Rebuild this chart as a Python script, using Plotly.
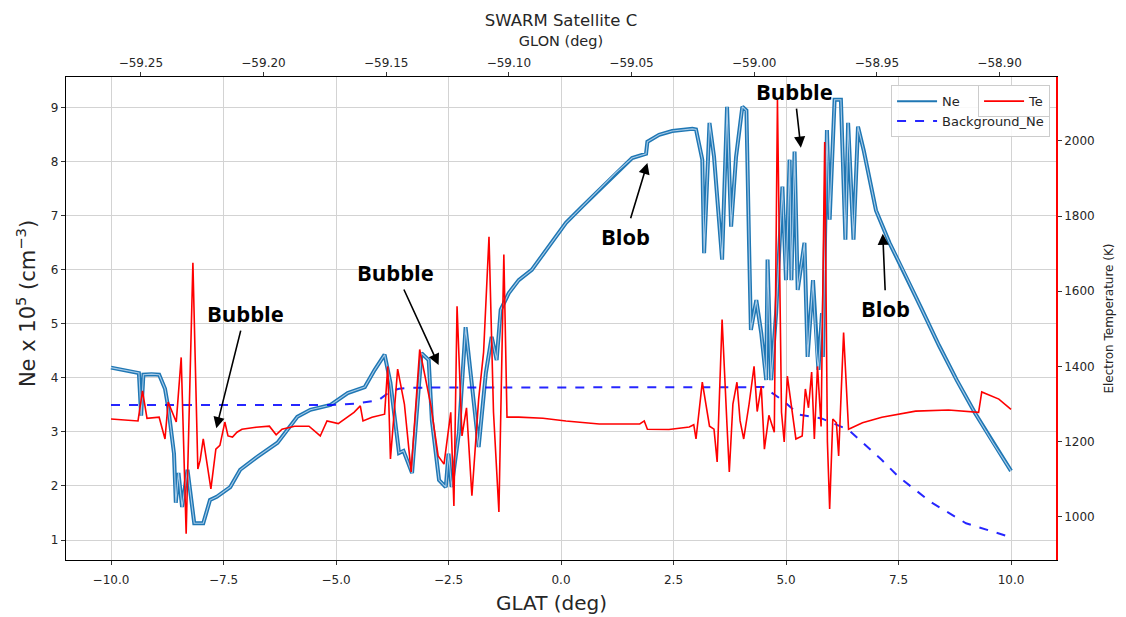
import plotly.graph_objects as go

# ---------------- data ----------------
ne_glat = [-10.0, -9.6, -9.38, -9.33, -9.28, -9.1, -8.93, -8.8, -8.73, -8.6, -8.56, -8.5, -8.42, -8.3,
           -8.15, -7.95, -7.8, -7.65, -7.35, -7.13, -6.75, -6.3, -5.86, -5.57, -5.12, -4.74, -4.36,
           -4.14, -3.92, -3.79, -3.6, -3.5, -3.31, -3.1, -2.94, -2.87, -2.71, -2.56, -2.5, -2.43,
           -2.27, -2.12, -1.98, -1.83, -1.67, -1.54, -1.43, -1.34, -1.16, -0.94, -0.65, -0.27, 0.11,
           0.47, 0.85, 1.22, 1.58, 1.89, 1.92, 2.18, 2.47, 2.92, 3.0, 3.14, 3.18, 3.3, 3.4, 3.58,
           3.69, 3.78, 3.89, 4.03, 4.12, 4.18, 4.22, 4.34, 4.45, 4.56, 4.59, 4.67, 4.78, 4.92, 5.0,
           5.08, 5.12, 5.19, 5.26, 5.41, 5.48, 5.6, 5.68, 5.72, 5.8, 5.82, 5.91, 5.97, 6.08, 6.22,
           6.32, 6.38, 6.5, 6.6, 6.73, 7.0, 7.3, 7.6, 8.0, 8.4, 8.8, 9.2, 9.6, 10.0]
ne_vals = [4.19, 4.13, 4.09, 3.3, 4.06, 4.07, 4.06, 3.8, 3.46, 2.6, 1.69, 2.24, 1.61, 2.3,
           1.31, 1.31, 1.74, 1.8, 1.98, 2.3, 2.54, 2.8, 3.28, 3.41, 3.5, 3.72, 3.83,
           4.15, 4.43, 3.91, 2.61, 2.65, 2.24, 4.46, 4.33, 3.22, 2.11, 1.98, 2.6, 1.98,
           2.98, 4.94, 3.83, 2.72, 4.09, 4.76, 4.33, 5.26, 5.57, 5.81, 6.0, 6.43, 6.87,
           7.17, 7.48, 7.8, 8.07, 8.15, 8.37, 8.5, 8.57, 8.61, 8.6, 8.04, 6.31, 8.72, 8.1, 6.19,
           9.02, 6.8, 8.09, 9.02, 8.95, 6.43, 4.89, 5.44, 4.83, 3.96, 6.19, 3.96, 5.2, 7.54, 5.81,
           8.04, 5.81, 8.19, 5.63, 6.5, 4.39, 5.81, 4.46, 4.15, 5.2, 4.39, 8.59, 6.93, 9.15, 9.15,
           6.56, 8.72, 6.56, 8.65, 8.2, 7.1, 6.5, 6.0, 5.3, 4.6, 3.95, 3.35, 2.8, 2.28]

te_glat = [-10.0, -9.7, -9.4, -9.3, -9.2, -8.93, -8.8, -8.73, -8.55, -8.44, -8.33, -8.18, -8.07,
           -8.02, -7.95, -7.78, -7.67, -7.58, -7.47, -7.4, -7.3, -7.2, -7.09, -6.78, -6.48, -6.33,
           -6.2, -5.92, -5.6, -5.35, -5.2, -4.95, -4.6, -4.46, -4.4, -4.2, -3.92, -3.85, -3.79,
           -3.63, -3.48, -3.33, -3.14, -2.89, -2.73, -2.6, -2.45, -2.38, -2.31, -2.2, -2.1, -1.98,
           -1.83, -1.72, -1.6, -1.5, -1.38, -1.27, -1.2, -0.94, -0.4, 0.11, 0.85, 1.75, 1.85, 1.92,
           2.4, 2.85, 2.95, 3.0, 3.14, 3.3, 3.4, 3.47, 3.58, 3.69, 3.74, 3.82, 3.91, 3.98, 4.06,
           4.18, 4.29, 4.36, 4.45, 4.52, 4.62, 4.74, 4.81, 4.9, 4.96, 5.03, 5.14, 5.22, 5.36, 5.43,
           5.5, 5.57, 5.63, 5.7, 5.78, 5.86, 5.92, 5.97, 6.04, 6.12, 6.17, 6.28, 6.39, 6.7, 7.13,
           7.88, 8.61, 9.28, 9.35, 9.73, 10.0]
te_vals = [1260, 1258, 1255, 1335, 1262, 1265, 1207, 1305, 1252, 1424, 955, 1676, 1127,
           1150, 1207, 1074, 1180, 1190, 1252, 1215, 1212, 1225, 1233, 1238, 1241, 1218,
           1233, 1241, 1241, 1215, 1255, 1248, 1278, 1295, 1255, 1265, 1273, 1400, 1154,
           1393, 1300, 1119, 1445, 1295, 1162, 1140, 1278, 1029, 1560, 1215, 1290, 1056,
           1313, 1438, 1745, 1278, 1013, 1698, 1265, 1265, 1262, 1255, 1247, 1247, 1255, 1233,
           1232, 1239, 1245, 1207, 1358, 1241, 1233, 1146, 1525, 1241, 1119, 1300, 1358, 1255, 1207,
           1300, 1400, 1280, 1347, 1180, 1270, 1225, 2109, 1278, 1199, 1374, 1278, 1207, 1215, 1340,
           1290, 1385, 1207, 1400, 1240, 1997, 1200, 1021, 1260, 1250, 1162, 1490, 1233, 1250, 1265,
           1281, 1284, 1278, 1332, 1313, 1286]

bg_glat = [-10.0, -5.1, -4.6, -4.05, -3.8, -3.6, -3.3, 4.5, 4.9, 5.3, 5.79, 6.39, 7.13, 7.5,
           8.24, 9.0, 10.0]
bg_vals = [3.5, 3.5, 3.52, 3.59, 3.75, 3.8, 3.82, 3.83, 3.6, 3.32, 3.25, 3.04, 2.48, 2.17,
           1.69, 1.31, 1.05]

glon_ticks = [-59.25, -59.20, -59.15, -59.10, -59.05, -59.00, -58.95, -58.90]
glon_range = [-59.2805, -58.877]
glat_range = [-11.0, 11.0]
ne_range = [0.63, 9.57]
te_range = [885, 2170]
te_ticks = [1000, 1200, 1400, 1600, 1800, 2000]

# annotations: (text, text_x, text_y, arrow_tip_x, arrow_tip_y)  in GLAT / Ne units
notes = [
    ("Bubble", -7.02, 5.20, -7.66, 3.07),
    ("Bubble", -3.67, 5.96, -2.72, 4.24),
    ("Blob", 1.43, 6.63, 1.92, 7.98),
    ("Bubble", 5.19, 9.31, 5.33, 8.26),
    ("Blob", 7.22, 5.30, 7.15, 6.67),
]

NE_COLOR = "#1f77b4"
FONT = "DejaVu Sans"
TXT = "#262626"

fig = go.Figure()

fig.add_trace(go.Scatter(x=ne_glat, y=ne_vals, mode="lines", showlegend=False,
                         line=dict(color=NE_COLOR, width=4), xaxis="x", yaxis="y"))
fig.add_trace(go.Scatter(x=ne_glat, y=ne_vals, mode="lines", showlegend=False,
                         line=dict(color="#a8cbe8", width=1.1), hoverinfo="skip",
                         xaxis="x", yaxis="y"))
fig.add_trace(go.Scatter(x=bg_glat, y=bg_vals, mode="lines", showlegend=False,
                         line=dict(color="rgba(0,0,255,0.85)", width=2, dash="dash"),
                         xaxis="x", yaxis="y"))
fig.add_trace(go.Scatter(x=te_glat, y=te_vals, mode="lines", name="Te",
                         line=dict(color="#ff0000", width=1.6), legend="legend2",
                         xaxis="x", yaxis="y2"))
# legend-only entries (thin handles as in the reference)
fig.add_trace(go.Scatter(x=[None], y=[None], mode="lines", name="Ne",
                         line=dict(color=NE_COLOR, width=2), legend="legend",
                         xaxis="x", yaxis="y"))
fig.add_trace(go.Scatter(x=[None], y=[None], mode="lines", name="Background_Ne",
                         line=dict(color="rgba(0,0,255,0.85)", width=2, dash="dash"),
                         legend="legend", xaxis="x", yaxis="y"))
# invisible trace to carry the top GLON axis
fig.add_trace(go.Scatter(x=glon_range, y=ne_range, mode="markers", marker=dict(opacity=0),
                         showlegend=False, hoverinfo="skip", xaxis="x2", yaxis="y"))

for text, tx, ty, px, py in notes:
    fig.add_annotation(x=px, y=py, ax=tx, ay=ty, xref="x", yref="y", axref="x", ayref="y",
                       text=f"<b>{text}</b>", showarrow=True, arrowhead=2, arrowsize=1.4,
                       arrowwidth=1.6, arrowcolor="black", borderpad=2,
                       font=dict(family="Open Sans", size=22, color="black"))

# axis titles placed as annotations for exact positioning
fig.add_annotation(x=-0.0403, y=0.530, xref="paper", yref="paper", textangle=-90,
                   text="Ne x 10<sup>5</sup> (cm<sup>−3</sup>)", showarrow=False,
                   xanchor="center", yanchor="middle",
                   font=dict(family=FONT, size=21, color=TXT))
fig.add_annotation(x=0.490, y=-0.089, xref="paper", yref="paper", text="GLAT (deg)",
                   showarrow=False, xanchor="center", yanchor="middle",
                   font=dict(family=FONT, size=20, color=TXT))

axis_common = dict(ticks="outside", ticklen=4, tickcolor="#333", showline=True,
                   linecolor="black", linewidth=1.2, zeroline=False,
                   tickfont=dict(family=FONT, size=12, color=TXT))

fig.update_layout(
    width=1118, height=609,
    margin=dict(l=58, r=68, t=69, b=57),
    paper_bgcolor="white", plot_bgcolor="white",
    font=dict(family=FONT, color=TXT),
    title=dict(text="SWARM Satellite C", x=0.5, xref="paper", xanchor="center",
               y=1 - 12 / 609, yref="container", yanchor="middle",
               font=dict(family=FONT, size=16.5, color=TXT)),
    xaxis=dict(range=glat_range, tick0=0, dtick=2.5, tickformat=".1f",
               showgrid=True, gridcolor="#d3d3d3", gridwidth=1, ticklabelstandoff=4,
               **axis_common),
    xaxis2=dict(range=glon_range, overlaying="x", side="top", anchor="y",
                tickvals=glon_ticks, tickformat=".2f", showgrid=False,
                title=dict(text="GLON (deg)", font=dict(family=FONT, size=14.5), standoff=6),
                **axis_common),
    yaxis=dict(range=ne_range, tickvals=list(range(1, 10)), showgrid=True,
               gridcolor="#d3d3d3", gridwidth=1, **axis_common),
    yaxis2=dict(range=te_range, tickvals=te_ticks, overlaying="y", side="right",
                anchor="x", showgrid=False, ticks="outside", ticklen=4, tickcolor="#333",
                showline=True, linecolor="#ff0000", linewidth=1.5, zeroline=False,
                tickfont=dict(family=FONT, size=12, color=TXT),
                title=dict(text="Electron Temperature (K)", font=dict(family=FONT, size=12),
                           standoff=11)),
    legend=dict(x=0.994, y=0.983, xanchor="right", yanchor="top",
                bgcolor="rgba(255,255,255,0.85)", bordercolor="#cccccc", borderwidth=1,
                font=dict(family=FONT, size=13), tracegroupgap=0, itemwidth=40),
    legend2=dict(x=0.994, y=0.983, xanchor="right", yanchor="top",
                 bgcolor="rgba(255,255,255,0.95)", bordercolor="#cccccc", borderwidth=1,
                 font=dict(family=FONT, size=13), itemwidth=40),
    showlegend=True,
)

fig.write_html("out.html")
